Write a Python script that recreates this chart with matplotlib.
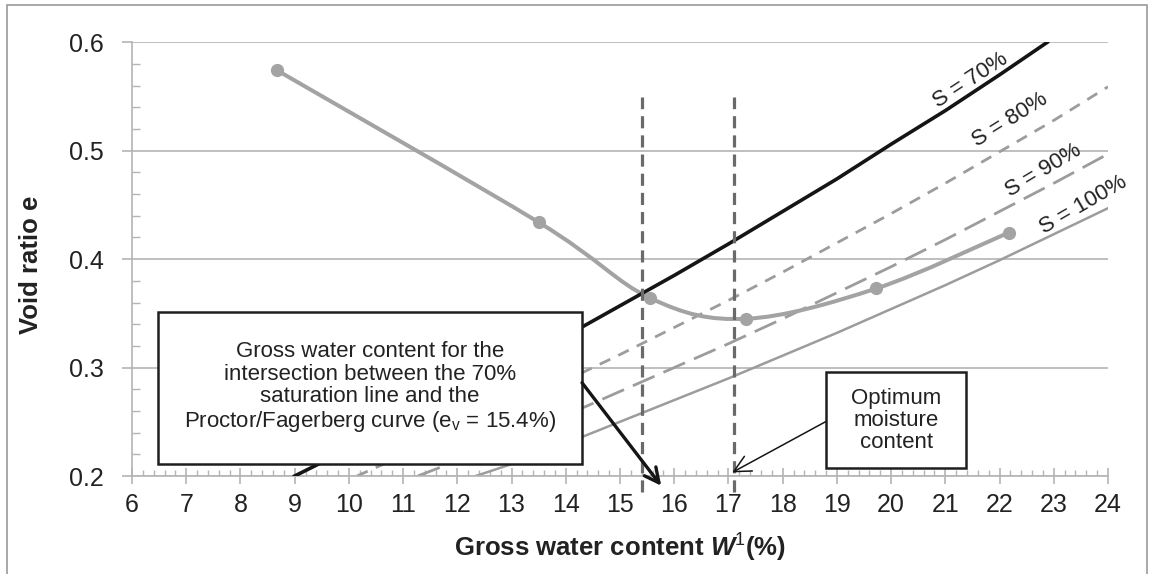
"""Void ratio vs gross water content with saturation lines."""
import matplotlib
matplotlib.use('Agg')
import matplotlib.pyplot as plt
from matplotlib.path import Path
from matplotlib.patches import PathPatch, Rectangle
from matplotlib.ticker import MultipleLocator
import numpy as np

plt.rcParams['font.family'] = ['Liberation Sans', 'DejaVu Sans']
plt.rcParams['mathtext.fontset'] = 'custom'
plt.rcParams['mathtext.rm'] = 'Liberation Sans'
plt.rcParams['mathtext.it'] = 'Liberation Sans:italic'
plt.rcParams['mathtext.bf'] = 'Liberation Sans:bold'
plt.rcParams['mathtext.bfit'] = 'Liberation Sans:bold:italic'

# Proctor/Fagerberg compaction curve
proctor_w = [8.68, 13.5, 15.56, 17.32, 19.73, 22.17]
proctor_e = [0.574, 0.434, 0.364, 0.345, 0.373, 0.4245]

# saturation lines
s70_w = [9.0, 10, 11, 12, 13, 14, 15, 16, 17, 18, 19, 20, 21, 22, 22.88]
s70_e = [0.200, 0.225, 0.250, 0.276, 0.302, 0.329, 0.357, 0.385, 0.414,
         0.444, 0.474, 0.506, 0.537, 0.570, 0.600]
s80_w = [10.15, 11, 12, 13, 14, 15, 16, 17, 18, 19, 20, 21, 22, 23, 24]
s80_e = [0.200, 0.219, 0.241, 0.264, 0.288, 0.312, 0.337, 0.362, 0.388,
         0.415, 0.442, 0.470, 0.499, 0.528, 0.559]
s90_w = [11.27, 12, 13, 14, 15, 16, 17, 18, 19, 20, 21, 22, 23, 24]
s90_e = [0.200, 0.214, 0.235, 0.256, 0.278, 0.300, 0.322, 0.345, 0.369,
         0.393, 0.418, 0.444, 0.470, 0.497]
s100_w = [12.34, 13, 14, 15, 16, 17, 18, 19, 20, 21, 22, 23, 24]
s100_e = [0.200, 0.211, 0.230, 0.250, 0.270, 0.290, 0.311, 0.332, 0.354,
          0.376, 0.399, 0.423, 0.447]

intersection_w = 15.4
optimum_w = 17.1
marker_e = (0.185, 0.55)

GRID = '#b4b4b4'
CURVE = '#a3a3a3'
DASH = '#9c9c9c'
VLINE = '#6a6a6a'
TXT = '#222222'


def smooth_path(xs, ys):
    """Bezier path through the points, spreadsheet-style smoothing."""
    pts = np.column_stack([xs, ys]).astype(float)
    ext = np.vstack([pts[0], pts, pts[-1]])
    verts = [pts[0]]
    codes = [Path.MOVETO]
    for i in range(len(pts) - 1):
        p0, p1, p2, p3 = ext[i], ext[i + 1], ext[i + 2], ext[i + 3]
        verts += [p1 + (p2 - p0) / 6, p2 - (p3 - p1) / 6, p2]
        codes += [Path.CURVE4] * 3
    return Path(verts, codes)


fig = plt.figure(figsize=(11.52, 5.74), dpi=100)
ax = fig.add_axes([132 / 1152, 1 - 476 / 574, 976 / 1152, 433.7 / 574])
ax.set_xlim(6, 24)
ax.set_ylim(0.2, 0.6)

# outer frame
fig.patches.append(Rectangle((7 / 1152, -0.05), 1140 / 1152, 1.05 - 4.7 / 574,
                             transform=fig.transFigure, fill=False,
                             edgecolor='#9a9a9a', lw=1.2))

for side in ('top', 'right'):
    ax.spines[side].set_visible(False)
for side in ('left', 'bottom'):
    ax.spines[side].set_color(GRID)
    ax.spines[side].set_linewidth(1.2)

ax.xaxis.set_major_locator(MultipleLocator(1))
ax.xaxis.set_minor_locator(MultipleLocator(0.2))
ax.yaxis.set_major_locator(MultipleLocator(0.1))
ax.yaxis.set_minor_locator(MultipleLocator(0.02))
ax.tick_params(axis='x', which='major', direction='inout', length=11,
               width=1.2, color=GRID, labelsize=18, labelcolor=TXT, pad=7)
ax.tick_params(axis='x', which='minor', direction='in', length=4.5,
               width=1.0, color=GRID)
ax.tick_params(axis='y', which='major', direction='out', length=7,
               width=1.2, color=GRID, labelsize=18, labelcolor=TXT, pad=13)
ax.tick_params(axis='y', which='minor', direction='in', length=6,
               width=1.0, color=GRID)
ax.set_yticks([0.2, 0.3, 0.4, 0.5, 0.6])
ax.set_yticklabels(['0.2', '0.3', '0.4', '0.5', '0.6'])
ax.grid(axis='y', which='major', color=GRID, lw=1.2, zorder=0)
ax.set_axisbelow(True)

# saturation lines
ax.plot(s100_w, s100_e, color=DASH, lw=1.8, zorder=2)
ax.plot(s90_w, s90_e, color=DASH, lw=2.0, dashes=(8.5, 3.5), zorder=2)
ax.plot(s80_w, s80_e, color=DASH, lw=2.0, dashes=(4.2, 3.2), zorder=2)

# compaction curve
ax.add_patch(PathPatch(smooth_path(proctor_w, proctor_e), fill=False,
                       edgecolor=CURVE, lw=2.9, zorder=3))
ax.plot(proctor_w, proctor_e, 'o', color=CURVE, ms=8.5, zorder=3)

ax.plot(s70_w, s70_e, color='#151515', lw=2.6, zorder=4)

for w in (intersection_w, optimum_w):
    ax.plot([w, w], marker_e, color=VLINE, lw=2.3, dashes=(3.8, 2.2),
            clip_on=False, zorder=4)

labels = [('S = 70%', 21.46, 0.565, 33),
          ('S = 80%', 22.2, 0.528, 32),
          ('S = 90%', 22.81, 0.482, 31),
          ('S = 100%', 23.55, 0.450, 30)]
for txt, x, y, rot in labels:
    ax.text(x, y, txt, rotation=rot, rotation_mode='anchor', ha='center',
            va='center', fontsize=16, color=TXT, zorder=5)

# annotation boxes
ax.add_patch(Rectangle((6.485, 0.2113), 14.30 - 6.485, 0.3508 - 0.2113,
                       facecolor='white', edgecolor='#1e1e1e', lw=1.8,
                       zorder=6))
ax.text((6.485 + 14.30) / 2, 0.2814,
        'Gross water content for the\nintersection between the 70%\n'
        'saturation line and the\nProctor/Fagerberg curve '
        '(e$_\\mathregular{v}$ = ' + f'{intersection_w}%)',
        ha='center', va='center', fontsize=16, linespacing=1.1,
        color=TXT, zorder=7)
ax.annotate('', xy=(15.76, 0.191), xytext=(14.30, 0.286),
            arrowprops=dict(arrowstyle='->', lw=2.4, color='#151515',
                            mutation_scale=26, shrinkA=0, shrinkB=0),
            annotation_clip=False, zorder=6)

ax.add_patch(Rectangle((18.80, 0.2074), 21.39 - 18.80, 0.2959 - 0.2074,
                       facecolor='white', edgecolor='#1e1e1e', lw=1.8,
                       zorder=6))
ax.text((18.80 + 21.39) / 2, 0.2512, 'Optimum\nmoisture\ncontent',
        ha='center', va='center', fontsize=16, linespacing=1.08,
        color=TXT, zorder=7)
ax.annotate('', xy=(optimum_w - 0.03, 0.2033), xytext=(18.80, 0.2503),
            arrowprops=dict(arrowstyle='->, head_length=0.6, head_width=0.3',
                            lw=1.1, color='#151515', mutation_scale=20,
                            shrinkA=0, shrinkB=0),
            annotation_clip=False, zorder=6)

ax.set_xlabel(r'Gross water content $\mathbfit{W}^{1}$(%)',
              fontsize=18.5, fontweight='bold', color=TXT, va='center')
ax.xaxis.set_label_coords(0.5, -0.166)
ax.set_ylabel('Void ratio e', fontsize=18.5, fontweight='bold', color=TXT,
              va='center')
ax.yaxis.set_label_coords(-0.1035, 0.487)

fig.savefig('out.png', dpi=100)
